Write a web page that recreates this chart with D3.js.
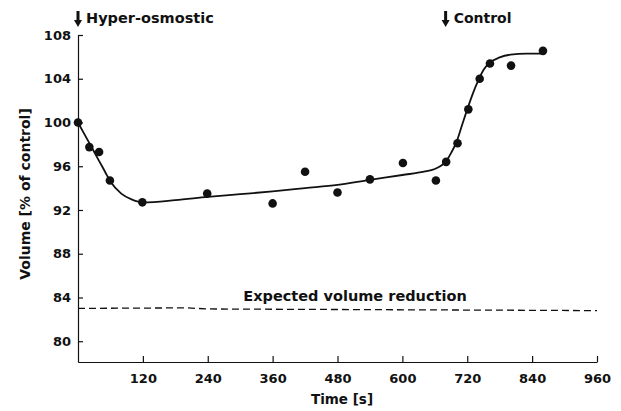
<!DOCTYPE html>
<html>
<head>
<meta charset="UTF-8">
<script src="https://d3js.org/d3.v7.min.js"></script>
<title>Volume</title>
<style>
  body { margin: 0; background: #fff; }
  text { font-family: "DejaVu Sans", sans-serif; font-weight: bold; fill: #111; }
</style>
</head>
<body>
<div id="container"></div>
<script>
// measured points
var pointTime = [0, 21, 39, 59, 119, 239, 360, 420, 480, 540, 601, 662, 681, 702, 722, 743, 762, 801, 860];
var pointVolume = [100.0, 97.75, 97.3, 94.7, 92.7, 93.5, 92.6, 95.5, 93.6, 94.8, 96.3, 94.7, 96.4, 98.1, 101.2, 104.0, 105.4, 105.2, 106.55];
// fitted curve
var curveTime = [0, 10, 20, 30, 40, 50, 60, 80, 100, 120, 180, 240, 300, 360, 420, 480, 540, 600, 640, 660, 670, 680, 690, 700, 710, 720, 730, 740, 750, 760, 780, 800, 830, 860];
var curveVolume = [100, 99.1, 98.2, 97.3, 96.4, 95.5, 94.6, 93.5, 92.95, 92.7, 92.9, 93.2, 93.45, 93.7, 94.0, 94.3, 94.75, 95.2, 95.5, 95.75, 96.0, 96.4, 97.2, 98.2, 99.7, 101.2, 102.6, 103.8, 104.8, 105.4, 105.95, 106.2, 106.3, 106.3];
// expected volume reduction (dashed)
var expectedTime = [0, 200, 240, 480, 720, 960];
var expectedVolume = [83.0, 83.05, 82.95, 82.9, 82.85, 82.8];
var xTicks = [120, 240, 360, 480, 600, 720, 840, 960];
var yTicks = [80, 84, 88, 92, 96, 100, 104, 108];

var width = 621, height = 411;
var svg = d3.select("#container").append("svg")
  .attr("width", width).attr("height", height);

var x = d3.scaleLinear().domain([0, 960]).range([78, 597]);
var y = d3.scaleLinear().domain([78.1, 108]).range([362, 35]);

// axes with inward ticks
var xAxis = svg.append("g")
  .attr("transform", "translate(0," + y(78.1) + ")")
  .call(d3.axisBottom(x).tickValues(xTicks).tickSize(-6).tickSizeOuter(0).tickPadding(12));
var yAxis = svg.append("g")
  .attr("transform", "translate(" + x(0) + ",0)")
  .call(d3.axisLeft(y).tickValues(yTicks).tickSize(-5).tickSizeOuter(0).tickPadding(7));
[xAxis, yAxis].forEach(function(a){
  a.selectAll("path, line").attr("stroke", "#111").attr("stroke-width", 1.2);
  a.selectAll("text").style("font-size", "13px").attr("fill", "#111");
});

// expected line
svg.append("path")
  .datum(expectedTime.map(function(t, i){ return [t, expectedVolume[i]]; }))
  .attr("fill", "none").attr("stroke", "#111").attr("stroke-width", 1.3)
  .attr("stroke-dasharray", "7,4")
  .attr("d", d3.line().x(function(d){ return x(d[0]); }).y(function(d){ return y(d[1]); }));

// fitted curve
svg.append("path")
  .datum(curveTime.map(function(t, i){ return [t, curveVolume[i]]; }))
  .attr("fill", "none").attr("stroke", "#111").attr("stroke-width", 1.8)
  .attr("d", d3.line().curve(d3.curveMonotoneX)
    .x(function(d){ return x(d[0]); }).y(function(d){ return y(d[1]); }));

// points
svg.selectAll("circle.pt")
  .data(pointTime.map(function(t, i){ return [t, pointVolume[i]]; }))
  .enter().append("circle")
  .attr("class", "pt")
  .attr("cx", function(d){ return x(d[0]); })
  .attr("cy", function(d){ return y(d[1]); })
  .attr("r", 4.3)
  .attr("fill", "#111");

// arrows marking solution changes
var markers = [{t: 0, label: "Hyper-osmostic", size: "14.5px"}, {t: 680, label: "Control", size: "14px"}];
var m = svg.selectAll("g.marker").data(markers).enter().append("g")
  .attr("class", "marker")
  .attr("transform", function(d){ return "translate(" + x(d.t) + ",0)"; });
m.append("rect").attr("x", -1.5).attr("y", 11).attr("width", 3).attr("height", 10).attr("fill", "#111");
m.append("path").attr("d", "M-4,20 L4,20 L0,27 Z").attr("fill", "#111");
m.append("text").attr("x", 8).attr("y", 23).style("font-size", function(d){ return d.size; })
  .text(function(d){ return d.label; });

// titles
svg.append("text")
  .attr("x", 355).attr("y", 300.5).attr("text-anchor", "middle")
  .style("font-size", "14.5px").text("Expected volume reduction");
svg.append("text")
  .attr("x", 342).attr("y", 404).attr("text-anchor", "middle")
  .style("font-size", "13.5px").text("Time [s]");
svg.append("text")
  .attr("transform", "translate(30,194) rotate(-90)").attr("text-anchor", "middle")
  .style("font-size", "14px").text("Volume [% of control]");
</script>
</body>
</html>
